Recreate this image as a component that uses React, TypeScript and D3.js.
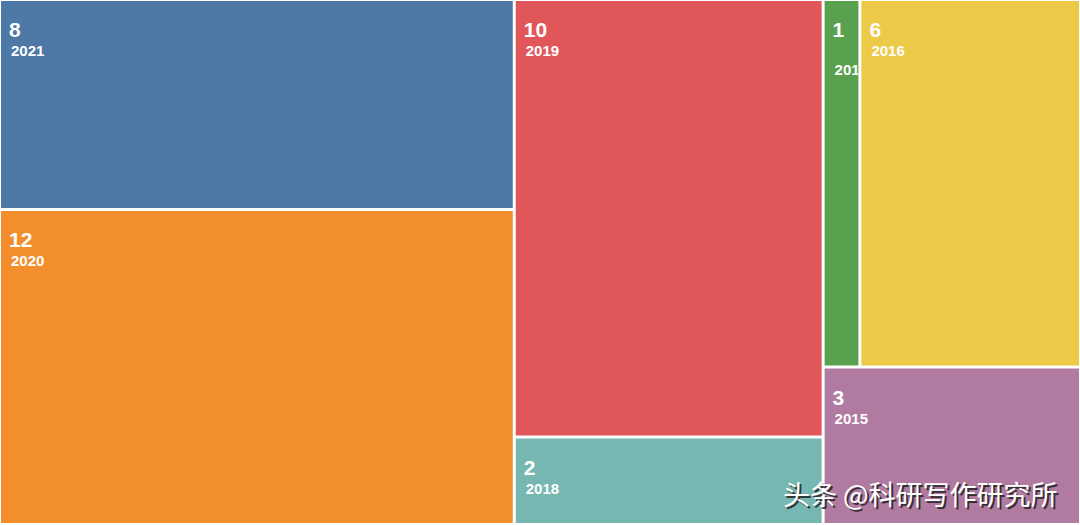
import { useMemo } from "react";
import * as d3 from "d3";

const WIDTH = 1080;
const HEIGHT = 525;

const years = ["2021", "2020", "2019", "2018", "2017", "2016", "2015"];
const counts = [8, 12, 10, 2, 1, 6, 3];
const colors = ["#4e79a7", "#f28e2b", "#e15759", "#76b7b2", "#59a14f", "#edc948", "#b07aa1"];

const LABEL_FONT = "'Liberation Sans', Arial, sans-serif";
const CJK_FONT = "'Noto Sans CJK SC', sans-serif";

export default function App() {
  const leaves = useMemo(() => {
    const root = d3
      .hierarchy({
        name: "root",
        children: years.map((y, i) => ({ name: y, value: counts[i], color: colors[i] })),
      } as any)
      .sum((d: any) => d.value ?? 0);
    // keep data order, no sort
    d3.treemap().tile(d3.treemapSquarify).size([WIDTH - 2, HEIGHT - 3]).paddingInner(3)(root);
    return root.leaves() as d3.HierarchyRectangularNode<any>[];
  }, []);

  return (
    <svg
      width={WIDTH}
      height={HEIGHT}
      style={{ position: "absolute", left: 0, top: 0, background: "#fff" }}
    >
      <defs>
        {leaves.map((d, i) => (
          <clipPath id={`clip-${i}`} key={i}>
            <rect x={d.x0} y={d.y0} width={d.x1 - d.x0} height={d.y1 - d.y0} />
          </clipPath>
        ))}
      </defs>
      <g transform="translate(1,1)">
        {leaves.map((d, i) => {
          const w = d.x1 - d.x0;
          const narrow = w < 60;
          return (
            <g key={d.data.name}>
              <rect x={d.x0} y={d.y0} width={w} height={d.y1 - d.y0} fill={d.data.color} />
              <g clipPath={`url(#clip-${i})`} fill="#fff" fontFamily={LABEL_FONT} fontWeight={700}>
                <text x={d.x0 + 8} y={d.y0 + 36} fontSize={21}>
                  {d.data.value}
                </text>
                <text x={d.x0 + 10} y={d.y0 + (narrow ? 74 : 55)} fontSize={15}>
                  {d.data.name}
                </text>
              </g>
            </g>
          );
        })}
      </g>
      <g fontFamily={CJK_FONT} fontSize={27}>
        <text x={785} y={507} fill="#222" opacity={0.85}>
          头条 @科研写作研究所
        </text>
        <text x={783} y={505} fill="#fff">
          头条 @科研写作研究所
        </text>
      </g>
    </svg>
  );
}
